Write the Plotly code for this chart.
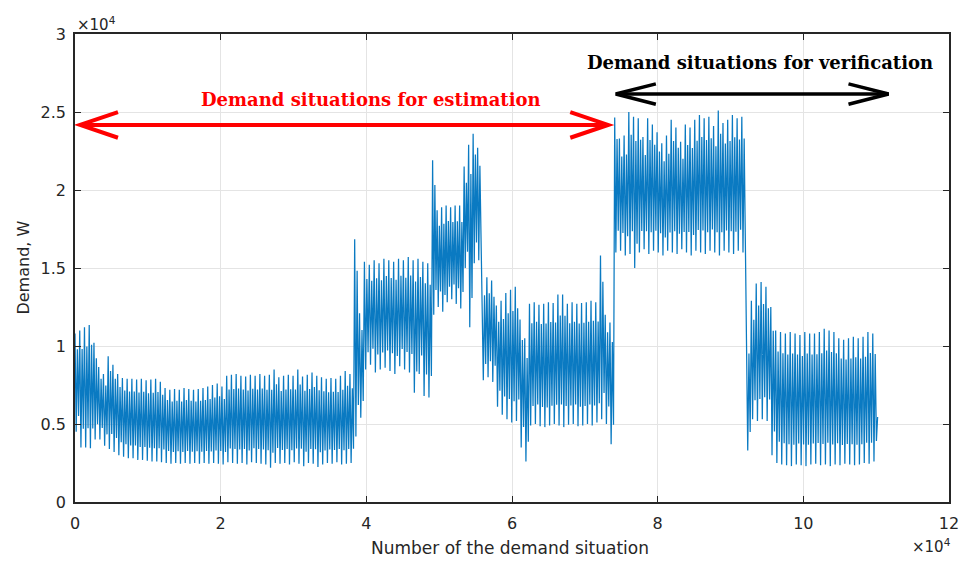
import numpy as np
import plotly.graph_objects as go

# ---------------------------------------------------------------------------
# Demand series: one peak and one trough per load cycle, grouped by the
# operating regime (segment) they belong to.
# ---------------------------------------------------------------------------
seg_edges = [0, 38400, 49100, 55900, 74100, 92200, 110200]

peaks_1 = [10800, 11000, 11200, 11350, 10200,
           8650, 8200, 9350, 8800, 8200, 7950, 7900,
           7900, 7850, 7900, 7800, 7850, 7900, 7700,
           7300, 7200, 7250, 7200, 7300, 7250, 7200, 7250, 7300, 7400,
           7500, 7600, 7400,
           8100, 8150, 8200, 8100, 8050, 8150, 8100, 8200, 8100, 8150,
           8500, 8000, 8100, 8150, 8100, 8500, 8050, 8150, 8300, 8100,
           8000, 7900, 7950, 7900, 8100, 8400, 8200]
troughs_1 = [4500, 3500, 3500, 3450, 4000,
             4000, 3600, 3400, 3200, 3000, 2900, 2800,
             2800, 2700, 2700, 2650, 2600, 2600, 2550,
             2500, 2450, 2500, 2450, 2500, 2450, 2500, 2450, 2500, 2450,
             2500, 2450, 2400,
             2550, 2500, 2450, 2500, 2400, 2550, 2500, 2450, 2400, 2200,
             2500, 2450, 2500, 2400, 2550, 2450, 2300, 2500, 2450, 2250,
             2400, 2500, 2450, 2550, 2400, 2450, 2500]

peaks_2 = [16850, 12100, 15400, 15200, 15500, 15300, 15600, 15500,
           15400, 15600, 15500, 15700, 15500, 15600, 15400, 15300]
troughs_2 = [4200, 5400, 8500, 8800, 8300, 8500, 8600, 8400,
             8200, 8700, 8500, 8300, 7000, 8200, 6800, 6700]

peaks_3 = [21900, 18700, 18900, 19000, 18900, 19000, 19000,
           21500, 22900, 23600, 22700]
troughs_3 = [12000, 12500, 12200, 12800, 13000, 12700, 12400,
             15000, 11200, 15300, 15500]

peaks_4 = [14300, 14400, 14200, 12600, 12900, 13400, 13600, 13800,
           11700, 10500, 12700, 12800, 12650, 12700, 12800, 12750,
           13300, 13300, 12700, 12800, 12700, 12750, 12800, 12900,
           12800, 15800, 12000, 11500]
troughs_4 = [7800, 8000, 7700, 6100, 5600, 5300, 5100, 5200,
             3500, 2600, 4900, 5000, 4850, 4800, 4900, 5000,
             4900, 4800, 4950, 5000, 4850, 4900, 5000, 4900,
             5100, 5300, 5000, 3700]

peaks_5 = [24650, 23300, 23500, 25000, 24700, 24600, 23400, 24600,
           24200, 23700, 23000, 23500, 24500, 24000, 23100, 24200,
           24000, 24500, 24800, 24600, 24700, 24100, 25100, 24300,
           24500, 24800, 24600, 24700]
troughs_5 = [16000, 16100, 15800, 15900, 15000, 16000, 16200, 15900,
             16100, 16000, 15800, 16100, 16000, 15900, 16200, 16000,
             15800, 16100, 16000, 15900, 16100, 16000, 15800, 16100,
             16000, 15900, 16100, 16000]

peaks_6 = [10700, 12900, 14000, 14100, 13800, 12500,
           11000, 10900, 10800, 10900, 10800, 10700, 10900, 10800,
           10800, 10900, 11100, 11000, 10900, 10500, 10400, 10500,
           10600, 10500, 10600, 10900, 10800]
troughs_6 = [3300, 5300, 5200, 5300, 5200, 3000,
             2500, 2400, 2350, 2300, 2400, 2350, 2300, 2400,
             2450, 2350, 2400, 2300, 2400, 2350, 2450, 2400,
             2350, 2400, 2500, 2450, 2600]

# where, as a share of the cycle's swing, the demand turns inside a cycle
# (after the trough: up, then down, then on to the next peak)
turn_points = [0.84, 0.16]

last_value = 5450

peaks = [peaks_1, peaks_2, peaks_3, peaks_4, peaks_5, peaks_6]
troughs = [troughs_1, troughs_2, troughs_3, troughs_4, troughs_5, troughs_6]

# axis ticks
x_tick_vals = [0, 20000, 40000, 60000, 80000, 100000, 120000]
x_tick_text = ["0", "2", "4", "6", "8", "10", "12"]
y_tick_vals = [0, 5000, 10000, 15000, 20000, 25000, 30000]
y_tick_text = ["0", "0.5", "1", "1.5", "2", "2.5", "3"]

# sample ranges used for estimation and for verification
est_span = (0, 74000)
ver_span = (74000, 112000)

# ---------------------------------------------------------------------------
# Build the sample-index / demand polyline
# ---------------------------------------------------------------------------
xs, ys = [], []
n_vert = 2 + len(turn_points)
for k in range(len(peaks)):
    p = np.asarray(peaks[k], dtype=float)
    t = np.asarray(troughs[k], dtype=float)
    n = len(p)
    start, stop = seg_edges[k], seg_edges[k + 1]
    step = (stop - start) / n
    for i in range(n):
        x0 = start + i * step
        xs += [x0 + j * step / n_vert for j in range(n_vert)]
        ys += [p[i], t[i]] + [t[i] + f * (p[i] - t[i]) for f in turn_points]
xs.append(seg_edges[-1])
ys.append(last_value)

fig = go.Figure()
fig.add_trace(go.Scatter(x=xs, y=ys, mode="lines",
                         line=dict(color="#0A7AC2", width=1.25),
                         hoverinfo="skip", showlegend=False))

axis_color = "#262626"
grid_color = "#e4e4e4"

fig.update_xaxes(range=[0, 120000], tickvals=x_tick_vals, ticktext=x_tick_text,
                 ticks="inside", ticklen=6, tickwidth=1.2, tickcolor=axis_color,
                 showline=True, linecolor=axis_color, linewidth=1.5, mirror="ticks",
                 showgrid=True, gridcolor=grid_color, gridwidth=1, zeroline=False,
                 ticklabelstandoff=6,
                 tickfont=dict(family="DejaVu Sans", size=16, color=axis_color))
fig.update_yaxes(range=[0, 30000], tickvals=y_tick_vals, ticktext=y_tick_text,
                 ticks="inside", ticklen=6, tickwidth=1.2, tickcolor=axis_color,
                 showline=True, linecolor=axis_color, linewidth=1.5, mirror="ticks",
                 showgrid=True, gridcolor=grid_color, gridwidth=1, zeroline=False,
                 ticklabelstandoff=4,
                 tickfont=dict(family="DejaVu Sans", size=16, color=axis_color))


def double_arrow(x0, x1, y, head_dx, head_dy, color, width):
    shapes = [dict(type="line", xref="x", yref="y", x0=x0, x1=x1, y0=y, y1=y,
                   line=dict(color=color, width=width))]
    for tip, sign in ((x0, 1), (x1, -1)):
        path = (f"M {tip + sign * head_dx},{y + head_dy} L {tip},{y} "
                f"L {tip + sign * head_dx},{y - head_dy}")
        shapes.append(dict(type="path", xref="x", yref="y", path=path,
                           line=dict(color=color, width=width)))
    return shapes


shapes = []
shapes += double_arrow(est_span[0] + 700, est_span[1] - 800, 24170,
                       5200, 820, "#ff0000", 4)
shapes += double_arrow(ver_span[0] + 250, ver_span[1] - 300, 26150,
                       5500, 650, "#000000", 3.5)

serif_bold = dict(family="DejaVu Serif", size=18)
annotations = [
    dict(x=(est_span[0] + est_span[1]) / 2 + 3700, y=25830, xref="x", yref="y",
         text="<b>Demand situations for estimation</b>", showarrow=False,
         xanchor="center", yanchor="middle",
         font=dict(**serif_bold, color="#ff0000")),
    dict(x=94100, y=28150, xref="x", yref="y",
         text="<b>Demand situations for verification</b>", showarrow=False,
         xanchor="center", yanchor="middle",
         font=dict(**serif_bold, color="#000000")),
    # axis titles
    dict(x=-0.06, y=0.5, xref="paper", yref="paper", text="Demand, W",
         textangle=-90, showarrow=False, xanchor="center", yanchor="middle",
         font=dict(family="DejaVu Sans", size=16, color=axis_color)),
    dict(x=0.498, y=-0.098, xref="paper", yref="paper",
         text="Number of the demand situation", showarrow=False,
         xanchor="center", yanchor="middle",
         font=dict(family="DejaVu Sans", size=17, color=axis_color)),
    # exponent markers
    dict(x=0, y=1, xref="paper", yref="paper", text="×10<sup>4</sup>",
         showarrow=False, xanchor="left", yanchor="bottom", yshift=-2,
         font=dict(family="DejaVu Sans", size=15, color=axis_color)),
    dict(x=1, y=-0.12, xref="paper", yref="paper", text="×10<sup>4</sup>",
         showarrow=False, xanchor="right", yanchor="bottom", xshift=4,
         font=dict(family="DejaVu Sans", size=15, color=axis_color)),
]

fig.update_layout(width=971, height=563,
                  margin=dict(l=75, r=12, t=34, b=61),
                  paper_bgcolor="white", plot_bgcolor="white",
                  showlegend=False, shapes=shapes, annotations=annotations)

fig.write_html("out.html")
